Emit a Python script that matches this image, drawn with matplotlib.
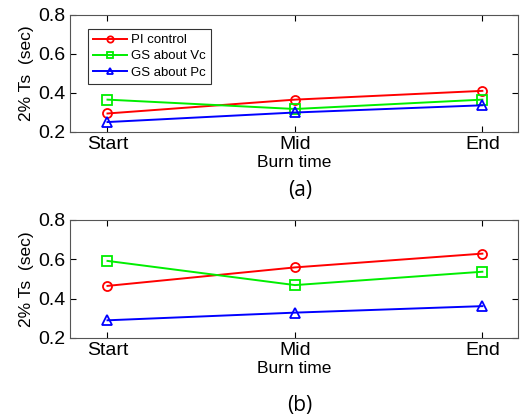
import matplotlib
matplotlib.use("Agg")
import matplotlib.pyplot as plt

categories = ["Start", "Mid", "End"]
series_names = ["PI control", "GS about Vc", "GS about Pc"]
a_pi = [0.295, 0.366, 0.411]
a_vc = [0.366, 0.318, 0.366]
a_pc = [0.251, 0.300, 0.337]
b_pi = [0.465, 0.559, 0.629]
b_vc = [0.592, 0.469, 0.537]
b_pc = [0.290, 0.329, 0.362]
yticks = [0.2, 0.4, 0.6, 0.8]

plt.rcParams['font.family'] = ['Liberation Sans', 'DejaVu Sans']
W, H = 522, 418
fig = plt.figure(figsize=(W/100, H/100), dpi=100)

def make_ax(top, bottom):
    return fig.add_axes([70/W, 1 - bottom/H, (518-70)/W, (bottom-top)/H])

ax1 = make_ax(15, 132)
ax2 = make_ax(220, 338)
x = [1, 2, 3]
styles = [("red", "o"), ("#00ee00", "s"), ("blue", "^")]

for ax, data in [(ax1, [a_pi, a_vc, a_pc]), (ax2, [b_pi, b_vc, b_pc])]:
    for (c, m), vals, name in zip(styles, data, series_names):
        ax.plot(x, vals, color=c, marker=m, markerfacecolor='none',
                markeredgecolor=c, markersize=6.5, markeredgewidth=1.3,
                linewidth=1.4, label=name)
    ax.set_xlim(0.8, 3.19)
    ax.set_ylim(0.2, 0.8)
    ax.set_yticks(yticks)
    ax.set_yticklabels([f"{v:.1f}" for v in yticks])
    ax.set_xticks(x)
    ax.set_xticklabels(categories)
    ax.tick_params(direction='in', top=True, right=True, labelsize=14, length=4, pad=3)
    ax.set_xlabel("Burn time", fontsize=12.5, labelpad=1)
    ax.set_ylabel("2% Ts  (sec)", fontsize=12.5, labelpad=3)
    for s in ax.spines.values():
        s.set_color('#555555')

leg = ax1.legend(loc='upper left', bbox_to_anchor=(0.025, 0.94), fontsize=9.5,
                 frameon=True, fancybox=False, edgecolor='black',
                 handlelength=2.6, handletextpad=0.3, labelspacing=0.3,
                 borderpad=0.4, markerscale=0.7)
leg.get_frame().set_linewidth(0.8)

fig.text(300/W, 1 - 190/H, "(a)", ha='center', va='center', fontsize=15, family=['Open Sans', 'DejaVu Sans'])
fig.text(300/W, 1 - 405/H, "(b)", ha='center', va='center', fontsize=15, family=['Open Sans', 'DejaVu Sans'])

fig.savefig("out.png", dpi=100)
